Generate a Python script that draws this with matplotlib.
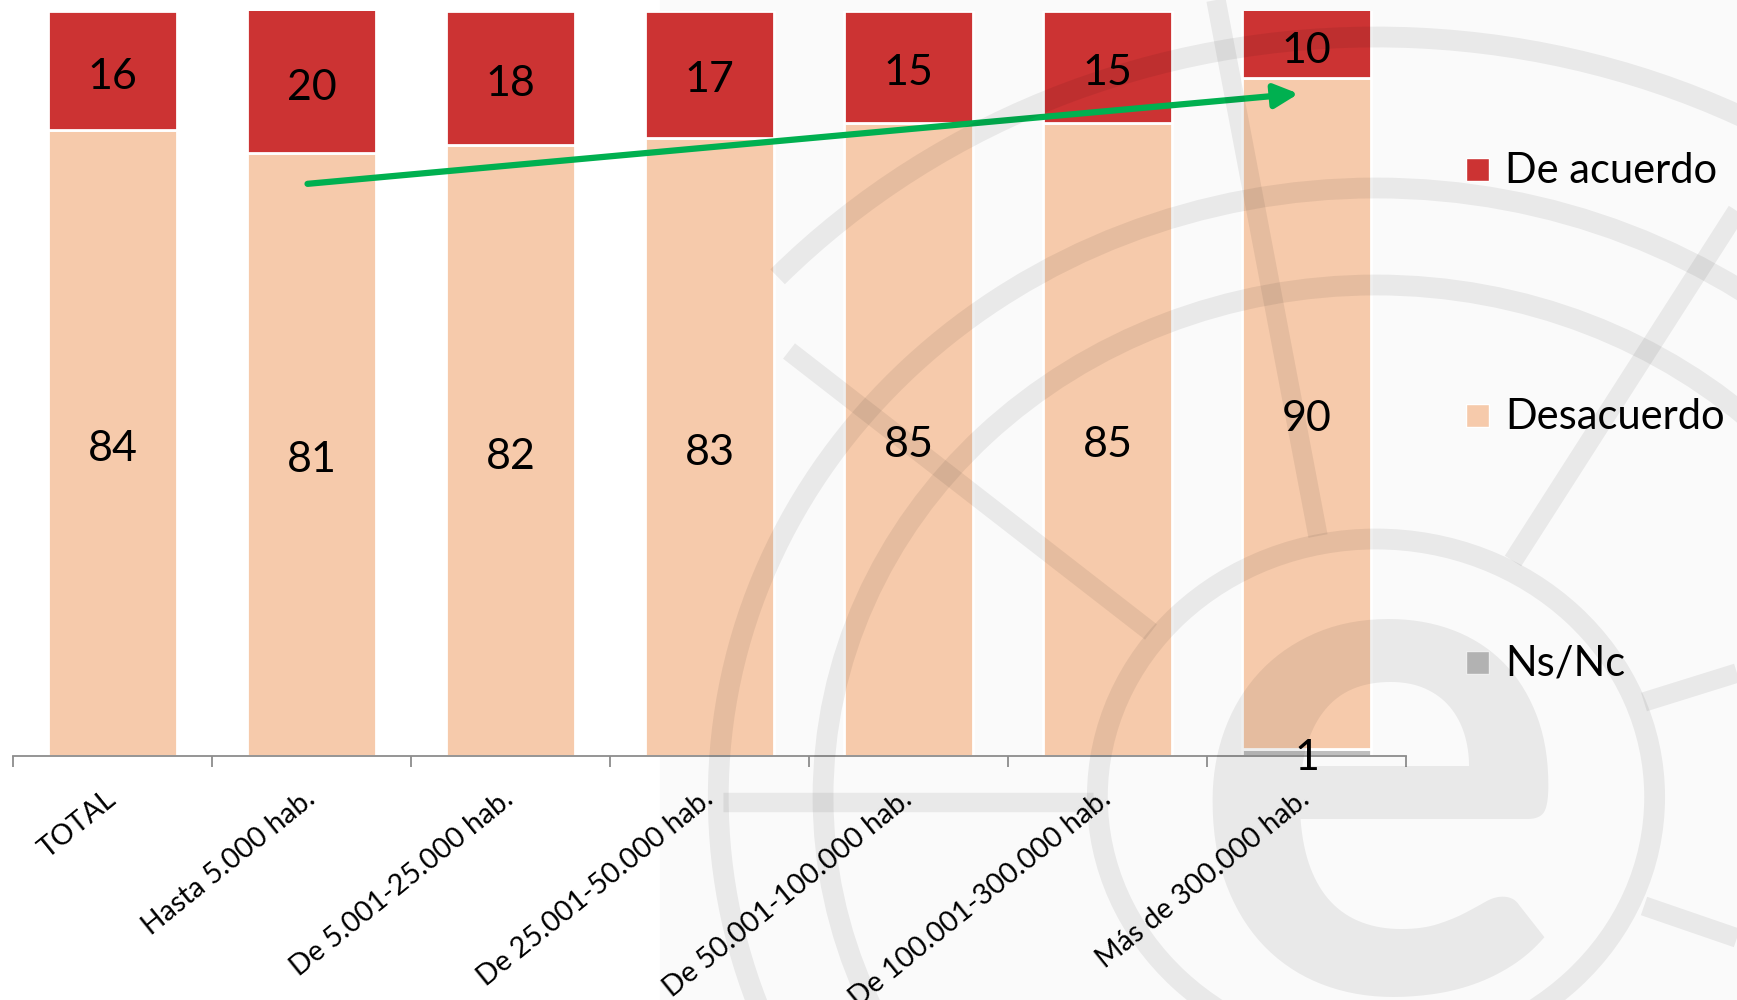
import matplotlib.pyplot as plt
import matplotlib.patches as mpatches
from matplotlib.lines import Line2D
import numpy as np

plt.rcParams['font.family'] = ['Lato', 'DejaVu Sans']

# data
categories = ['TOTAL', 'Hasta 5.000 hab.', 'De 5.001-25.000 hab.',
              'De 25.001-50.000 hab.', 'De 50.001-100.000 hab.',
              'De 100.001-300.000 hab.', 'Más de 300.000 hab.']
ns_nc = [0, 0, 0, 0, 0, 0, 1]
desacuerdo = [84, 81, 82, 83, 85, 85, 90]
de_acuerdo = [16, 20, 18, 17, 15, 15, 10]

series = [('Ns/Nc', ns_nc, '#BFBFBF'),
          ('Desacuerdo', desacuerdo, '#F6CAAB'),
          ('De acuerdo', de_acuerdo, '#CC3333')]

W, H = 1737, 1000
fig = plt.figure(figsize=(W / 100, H / 100), dpi=100)

# pale panel behind the logo watermark
bg = fig.add_axes([0, 0, 1, 1], zorder=-1)
bg.set_xlim(0, W)
bg.set_ylim(H, 0)
bg.axis('off')
bg.add_patch(mpatches.Rectangle((660, 0), W - 660, H, color='#FAFAFA'))

ax = fig.add_axes([13 / W, 1 - 756 / H, (1406 - 13) / W, (756 - 11) / H],
                  zorder=1)
ax.patch.set_alpha(0)

x = np.arange(len(categories))
bottom = np.zeros(len(categories))
for name, vals, col in series:
    vals = np.array(vals, float)
    ax.bar(x, vals, 0.65, bottom=bottom, color=col, edgecolor='white',
           linewidth=2, label=name)
    for i, v in enumerate(vals):
        if v > 0:
            top = min(bottom[i] + v, 100)
            ax.annotate(f'{v:.0f}', xy=(i, (bottom[i] + top) / 2),
                        xytext=(0, -6), textcoords='offset pixels',
                        ha='center', va='center', fontsize=31, zorder=6)
    bottom += vals

ax.set_xlim(-0.5, len(categories) - 0.5)
ax.set_ylim(0, 100)
ax.set_yticks([])
for s in ['top', 'right', 'left']:
    ax.spines[s].set_visible(False)
ax.spines['bottom'].set_color('#8C8C8C')
ax.spines['bottom'].set_linewidth(1.3)
ax.set_xticks(np.arange(-0.5, len(categories), 1))
ax.set_xticklabels([])
ax.tick_params(axis='x', length=8, width=1.3, color='#8C8C8C')

for i, cat in enumerate(categories):
    ax.annotate(cat, xy=(i, 0), xycoords=('data', 'axes fraction'),
                xytext=(5, -46), textcoords='offset pixels', rotation=39,
                rotation_mode='anchor', ha='right', va='baseline', fontsize=20.5)

# green trend arrow
ax.annotate('', xy=(5.96, 88.9), xytext=(0.98, 76.8),
            arrowprops=dict(arrowstyle='-|>', color='#00B050', lw=4.5,
                            mutation_scale=36, shrinkA=0, shrinkB=0),
            zorder=7)

# legend, drawn by hand to keep its spacing
legend_rows = [('De acuerdo', '#CC3333', 183),
               ('Desacuerdo', '#F6CAAB', 429),
               ('Ns/Nc', '#BFBFBF', 676)]
for label, col, base in legend_rows:
    bg.add_patch(mpatches.Rectangle((1466, base - 25.5), 23, 23,
                                    facecolor=col, edgecolor='white',
                                    linewidth=1))
    bg.text(1505, base, label, fontsize=30, va='baseline', ha='left')

# watermark logo (rings, spokes and a big "e"), laid faintly on top
wm = fig.add_axes([0, 0, 1, 1], zorder=10)
wm.set_xlim(0, W)
wm.set_ylim(H, 0)
wm.axis('off')
cx, cy, sx = 1376, 797, 1.08
shade = dict(color='black', alpha=0.065)
# y axis is flipped here, so the upper arc runs over negative angles
wm.add_patch(mpatches.Arc((cx, cy), 2 * 760 * sx, 2 * 760, theta1=-139,
                          theta2=60, lw=15, **shade))
for r in [609, 512, 258]:
    wm.add_patch(mpatches.Ellipse((cx, cy), 2 * r * sx, 2 * r, fill=False,
                                  lw=15, **shade))
spokes = [((1151, 632), (789, 351)),
          ((1318, 536), (1216, 0)),
          ((1513, 561), (1737, 211)),
          ((1644, 702), (1737, 673)),
          ((1644, 906), (1737, 938)),
          ((723, 802), (1093, 802))]
for (x0, y0), (x1, y1) in spokes:
    wm.add_line(Line2D([x0, x1], [y0, y1], lw=14, solid_capstyle='butt',
                       **shade))
wm.text(1379, 992, 'e', fontsize=515, fontweight='bold', ha='center',
        va='baseline', **shade)

fig.savefig('out.png', dpi=100)
